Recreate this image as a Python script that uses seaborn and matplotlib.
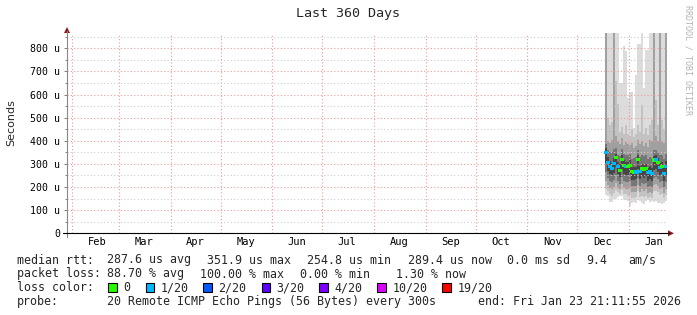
import numpy as np
import pandas as pd
import matplotlib
matplotlib.use('Agg')
import matplotlib.pyplot as plt
import matplotlib.dates as mdates
from matplotlib.ticker import MultipleLocator, FixedLocator, FuncFormatter
from matplotlib.patches import Rectangle, Polygon
from matplotlib.lines import Line2D
import seaborn as sns

# ---------------- data (values in microseconds) ----------------
range_start = "2025-01-28 21:11:55"
range_end = "2026-01-23 21:11:55"
data_start = "2025-12-17 16:00"
step = "1728min"   # consolidation step of one column (1.2 days)

median = [350, 305, 290, 282, 300, 328, 288, 273, 321, 295, 290, 288, 295, 266, 265, 265,
          321, 268, 280, 276, 280, 262, 268, 260, 317, 318, 305, 285, 290, 260, 290]
loss = [1, 1, 1, 1, 1, 0, 1, 0, 0, 0, 1, 0, 0, 0, 0, 1,
        0, 1, 0, 0, 0, 1, 1, 1, 0, 1, 0, 1, 0, 1, 1]

hi1 = [1000, 1000, 1000, 1000, 1000, 1000, 1000, 650, 650, 810, 790, 585, 610, 610, 455, 685,
       820, 820, 1000, 630, 793, 793, 1000, 1000, 1000, 1000, 1000, 1000, 1000, 1000, 1000]
hi2 = [1000, 500, 470, 480, 1000, 660, 560, 440, 460, 430, 470, 430, 420, 450, 415, 430,
       470, 440, 555, 430, 455, 425, 470, 490, 1000, 575, 470, 1000, 490, 450, 1000]
hi3 = [1000, 400, 390, 405, 1000, 420, 400, 385, 410, 380, 395, 385, 380, 390, 370, 378,
       405, 385, 400, 378, 392, 375, 405, 400, 1000, 420, 400, 1000, 400, 390, 1000]
hi4 = [385, 360, 350, 352, 365, 370, 340, 335, 365, 345, 340, 340, 345, 322, 325, 330,
       360, 328, 338, 333, 338, 322, 328, 325, 362, 362, 350, 340, 338, 322, 342]
hi5 = [368, 328, 312, 306, 325, 345, 308, 298, 340, 315, 310, 308, 315, 288, 286, 288,
       340, 290, 300, 297, 300, 283, 290, 282, 335, 337, 325, 305, 310, 283, 312]
lo5 = [305, 270, 255, 250, 262, 285, 255, 245, 280, 256, 250, 250, 256, 232, 230, 233,
       276, 236, 246, 241, 246, 228, 234, 228, 275, 278, 266, 250, 255, 228, 254]
lo4 = [265, 240, 225, 220, 232, 250, 226, 215, 245, 226, 220, 220, 226, 206, 204, 206,
       240, 206, 216, 211, 216, 200, 206, 200, 240, 243, 234, 220, 226, 200, 220]
lo3 = [225, 208, 194, 190, 200, 218, 198, 190, 214, 195, 192, 190, 194, 180, 177, 180,
       209, 180, 190, 185, 190, 175, 180, 175, 210, 212, 204, 192, 194, 175, 192]
lo2 = [192, 182, 168, 163, 174, 188, 178, 168, 188, 168, 168, 163, 164, 153, 151, 155,
       183, 155, 163, 158, 163, 151, 155, 151, 181, 185, 178, 165, 168, 151, 165]
lo1 = [165, 160, 135, 135, 150, 150, 155, 160, 160, 145, 145, 140, 120, 130, 135, 132,
       145, 140, 130, 128, 140, 142, 135, 140, 135, 140, 130, 130, 125, 130, 140]

loss_labels = ["0", "1/20", "2/20", "3/20", "4/20", "10/20", "19/20"]
loss_colors = ["#26ff00", "#00b8ff", "#0059ff", "#5e00ff", "#7e00ff", "#dd00ff", "#ff0000"]
smoke_colors = ["#dcdcdc", "#c2c2c2", "#a0a0a0", "#767676", "#474747"]

y_ticks = [0, 100, 200, 300, 400, 500, 600, 700, 800]
y_max = 866

stats_rtt = [("287.6 us avg", 107.3), ("351.9 us max", 207.3), ("254.8 us min", 306.7),
             ("289.4 us now", 408.3), ("0.0 ms sd", 507.3), ("9.4", 586.7), ("am/s", 628.3)]
stats_loss = [("88.70 % avg", 107.3), ("100.00 % max", 200.0), ("0.00 % min", 300.0),
              ("1.30 % now", 396.5)]
probe_text = "20 Remote ICMP Echo Pings (56 Bytes) every 300s"
end_text = "end: Fri Jan 23 21:11:55 2026"

# ---------------- figure ----------------
sns.set_style("white")
plt.rcParams['font.family'] = ['DejaVu Sans Mono', 'DejaVu Sans']

W, H = 697, 315
fig = plt.figure(figsize=(W / 100, H / 100), dpi=100)


def fx(px):
    return px / W


def fy(py):
    return 1 - py / H


ax = fig.add_axes([fx(67), fy(233.3), fx(667) - fx(67), fy(33) - fy(233.3)])

edges = mdates.date2num(pd.date_range(data_start, periods=len(median) + 1, freq=step).to_pydatetime())
centers = (edges[:-1] + edges[1:]) / 2

bands = [(lo1, hi1), (lo2, hi2), (lo3, hi3), (lo4, hi4), (lo5, hi5)]
for (lo, hi), col in zip(bands, smoke_colors):
    ax.stairs(np.array(hi, float), edges, baseline=np.array(lo, float), fill=True,
              color=col, linewidth=0, zorder=1)

df = pd.DataFrame({"t": centers, "median": median,
                   "loss": [loss_labels[i] for i in loss]})
sns.scatterplot(data=df, x="t", y="median", hue="loss", hue_order=loss_labels,
                palette=dict(zip(loss_labels, loss_colors)), marker="s", s=5,
                linewidth=0, legend=False, ax=ax, zorder=4)

ax.set_xlim(mdates.date2num(pd.Timestamp(range_start)), mdates.date2num(pd.Timestamp(range_end)))
ax.set_ylim(0, y_max)
ax.set_xlabel("")
ax.set_ylabel("")

ax.xaxis.set_major_locator(mdates.MonthLocator(bymonthday=1))
ax.xaxis.set_major_formatter(FuncFormatter(lambda v, p: ""))
ax.xaxis.set_minor_locator(mdates.MonthLocator(bymonthday=16))
ax.xaxis.set_minor_formatter(mdates.DateFormatter("%b"))
ax.yaxis.set_major_locator(FixedLocator(y_ticks))
ax.yaxis.set_major_formatter(FuncFormatter(lambda v, p: "0" if v == 0 else f"{int(v)} u"))
ax.yaxis.set_minor_locator(MultipleLocator(50))

ax.set_axisbelow(False)
ax.grid(False)
ax.xaxis.grid(True, which="major", color="#f09a9a", linestyle=(0, (1, 2)), linewidth=0.8)
ax.yaxis.grid(True, which="major", color="#f09a9a", linestyle=(0, (1, 2)), linewidth=0.8)
ax.yaxis.grid(True, which="minor", color="#cccccc", linestyle=(0, (1, 2)), linewidth=0.8)

ax.tick_params(axis="x", which="both", length=0, labelsize=7.5, pad=2.5, colors="black")
ax.tick_params(axis="y", which="major", length=2.5, width=0.7, color="#808080",
               labelsize=7.1, pad=2.6, labelcolor="black", direction="out", left=True)
ax.tick_params(axis="y", which="minor", length=1.5, width=0.7, color="#808080", left=True)
for s in ax.spines.values():
    s.set_visible(False)

# axes lines and arrows (RRDtool style)
fig.add_artist(Line2D([fx(67), fx(67)], [fy(237), fy(31)], color="#888888", linewidth=0.8))
fig.add_artist(Line2D([fx(63), fx(669)], [fy(233.3), fy(233.3)], color="black", linewidth=0.8))
arrow_col = "#8b1a1a"
fig.add_artist(Polygon([[fx(64), fy(33)], [fx(70), fy(33)], [fx(67), fy(27)]],
                       closed=True, color=arrow_col, linewidth=0))
fig.add_artist(Polygon([[fx(668), fy(230.3)], [fx(668), fy(236.3)], [fx(674), fy(233.3)]],
                       closed=True, color=arrow_col, linewidth=0))

# title and labels
fig.text(fx(348), fy(14), "Last 360 Days", ha="center", va="center", fontsize=9.6)
fig.text(fx(11), fy(123), "Seconds", rotation=90, ha="center", va="center",
         fontsize=8, family="DejaVu Sans")
fig.text(fx(688), fy(5), "RRDTOOL / TOBI OETIKER", rotation=-90, ha="center", va="top",
         fontsize=6, color="#b4b4b4")

# legend block
fs = 8.4
base = [263.5, 277.5, 291.3, 305.3]
fig.text(fx(16.7), fy(base[0]), "median rtt:", fontsize=fs, va="baseline")
for txt, x in stats_rtt:
    fig.text(fx(x), fy(base[0]), txt, fontsize=fs, va="baseline")
fig.text(fx(16.7), fy(base[1]), "packet loss:", fontsize=fs, va="baseline")
for txt, x in stats_loss:
    fig.text(fx(x), fy(base[1]), txt, fontsize=fs, va="baseline")
fig.text(fx(16.7), fy(base[2]), "loss color:", fontsize=fs, va="baseline")
box_x = [108.3, 145.7, 203.3, 261.7, 319.3, 377.3, 442.3]
for lab, col, bx in zip(loss_labels, loss_colors, box_x):
    fig.add_artist(Rectangle((fx(bx), fy(291.7)), fx(8.4), fy(282.7) - fy(291.7),
                             facecolor=col, edgecolor="black", linewidth=0.8))
    fig.text(fx(bx + 15), fy(base[2]), lab, fontsize=fs, va="baseline")
fig.text(fx(16.7), fy(base[3]), "probe:", fontsize=fs, va="baseline")
fig.text(fx(107.3), fy(base[3]), probe_text, fontsize=fs, va="baseline")
fig.text(fx(478.3), fy(base[3]), end_text, fontsize=fs, va="baseline")

fig.savefig("out.png", dpi=100)
